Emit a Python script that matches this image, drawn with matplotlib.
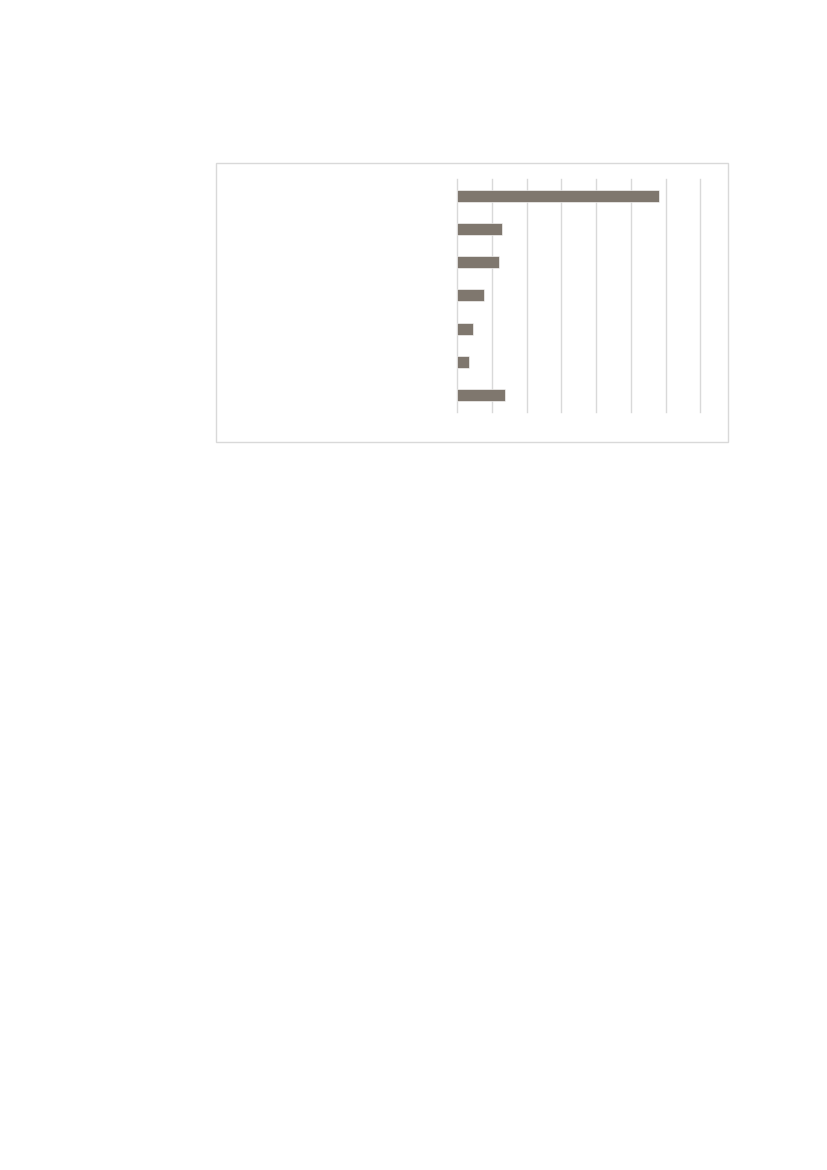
import matplotlib
matplotlib.use("Agg")
import matplotlib.pyplot as plt
from matplotlib.patches import Rectangle

# Data (category labels are not visible in the reference)
categories = ["A", "B", "C", "D", "E", "F", "G"]
values = [5.81, 1.30, 1.21, 0.78, 0.45, 0.35, 1.37]
xticks = [0, 1, 2, 3, 4, 5, 6, 7]

BAR_COLOR = "#7f776e"
GRID_COLOR = "#d9d9d9"

fig = plt.figure(figsize=(8.27, 11.70), dpi=100)

# outer chart frame
fig.patches.append(Rectangle((0.2615, 0.6222), 0.6191, 0.2382, transform=fig.transFigure,
                             fill=False, edgecolor=GRID_COLOR, linewidth=1.0, zorder=0))

ax = fig.add_axes([0.5530, 0.6479, 0.2938, 0.1991])
ax.set_facecolor("none")
ypos = list(range(len(categories)))
ax.barh(ypos, values, height=0.36, color=BAR_COLOR, edgecolor="white", linewidth=0.4, zorder=3)
ax.set_ylim(len(categories) - 0.5, -0.5)
ax.set_xlim(xticks[0], xticks[-1])
ax.set_xticks(xticks)
ax.set_yticks(ypos)
ax.set_yticklabels([])
ax.set_xticklabels([])
ax.tick_params(length=0)
ax.grid(axis="x", color=GRID_COLOR, linewidth=1.0, zorder=0)
ax.set_axisbelow(True)
for gl in ax.get_xgridlines():
    gl.set_clip_on(False)
for s in ax.spines.values():
    s.set_visible(False)

fig.savefig("out.png", dpi=100)
